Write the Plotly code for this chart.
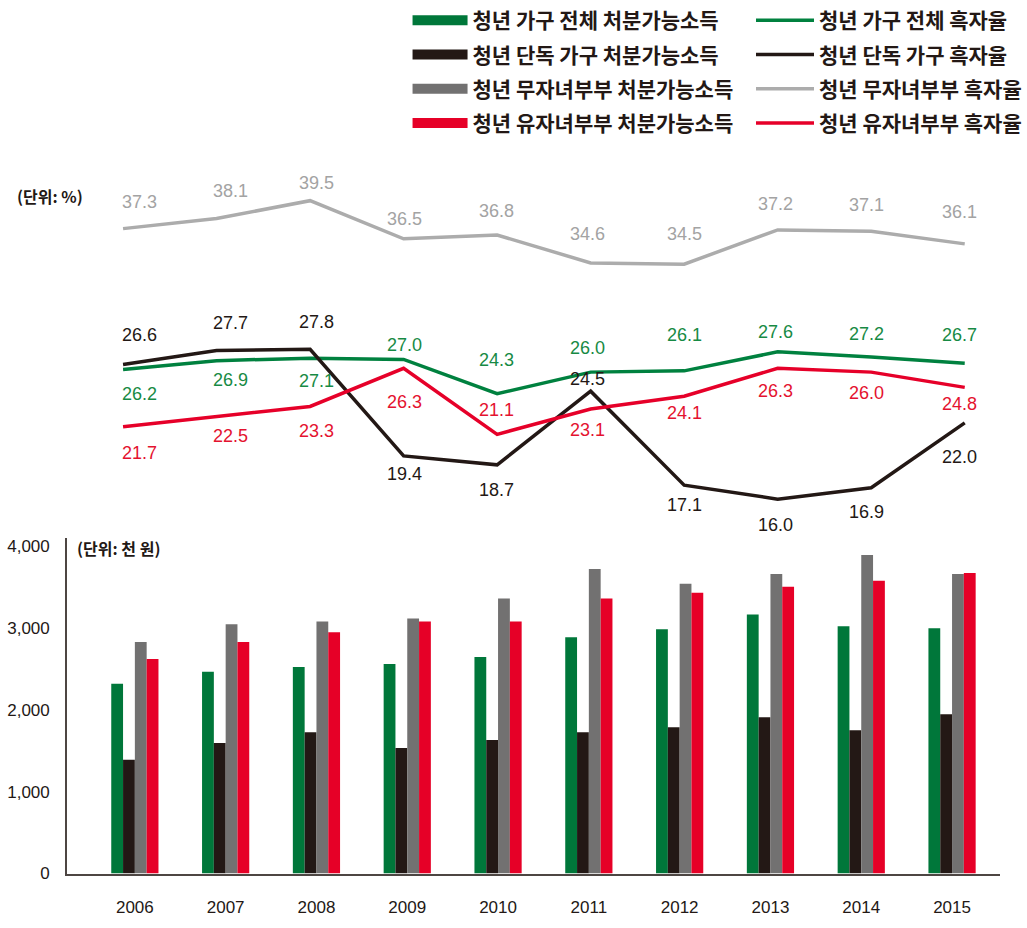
import plotly.graph_objects as go

years = [2006, 2007, 2008, 2009, 2010, 2011, 2012, 2013, 2014, 2015]

# 처분가능소득 (천 원)
inc_all = [2322, 2467, 2527, 2563, 2648, 2890, 2987, 3168, 3023, 2999]
inc_single = [1390, 1596, 1729, 1536, 1632, 1729, 1790, 1910, 1753, 1947]
inc_nochild = [2830, 3047, 3083, 3120, 3362, 3724, 3543, 3664, 3894, 3664]
inc_child = [2624, 2830, 2950, 3083, 3083, 3362, 3434, 3506, 3579, 3676]

# 흑자율 (%)
sr_all = [26.2, 26.9, 27.1, 27.0, 24.3, 26.0, 26.1, 27.6, 27.2, 26.7]
sr_single = [26.6, 27.7, 27.8, 19.4, 18.7, 24.5, 17.1, 16.0, 16.9, 22.0]
sr_nochild = [37.3, 38.1, 39.5, 36.5, 36.8, 34.6, 34.5, 37.2, 37.1, 36.1]
sr_child = [21.7, 22.5, 23.3, 26.3, 21.1, 23.1, 24.1, 26.3, 26.0, 24.8]

bar_names = ['청년 가구 전체 처분가능소득', '청년 단독 가구 처분가능소득',
             '청년 무자녀부부 처분가능소득', '청년 유자녀부부 처분가능소득']
line_names = ['청년 가구 전체 흑자율', '청년 단독 가구 흑자율',
              '청년 무자녀부부 흑자율', '청년 유자녀부부 흑자율']

bar_colors = ['#00773a', '#231815', '#727171', '#e60027']
line_colors = ['#00813f', '#231815', '#acacac', '#e60029']
label_colors = ['#178a44', '#231815', '#a3a3a3', '#e4122f']

# value label offsets in px (negative = below the point)
shifts = [
    [-24, -19, -23, 14, 34, 24, 36, 20, 23, 28],
    [30, 28, 27, -18, -25, 12, -20, -26, -24, -34],
    [27, 27, 18, 20, 24, 29, 30, 26, 26, 32],
    [-26, -19, -25, -34, 24, -21, -17, -23, -21, -17],
]
xshifts = [16, 14, 6, 1, -1, -3, 0, -2, -5, -5]

KR = 'Noto Sans CJK KR'
NUM = 'Liberation Sans'
W, H = 1027, 928

fig = go.Figure()

for vals, name, col in zip([inc_all, inc_single, inc_nochild, inc_child], bar_names, bar_colors):
    fig.add_trace(go.Bar(x=years, y=vals, name=name, marker=dict(color=col, line_width=0),
                         showlegend=False, xaxis='x', yaxis='y'))

# legend entries for the bars (wide rectangles)
for i, (name, col) in enumerate(zip(bar_names, bar_colors)):
    fig.add_trace(go.Scatter(x=[None], y=[None], mode='lines', name=name,
                             line=dict(color=col, width=12), legend='legend',
                             legendgroup='b%d' % i, xaxis='x2', yaxis='y2'))

series = [sr_all, sr_single, sr_nochild, sr_child]
for i, (vals, name, col) in enumerate(zip(series, line_names, line_colors)):
    fig.add_trace(go.Scatter(x=years, y=vals, name=name, mode='lines',
                             line=dict(color=col, width=3.5), legend='legend2',
                             legendgroup='l%d' % i, xaxis='x2', yaxis='y2'))
    for j, (x, v) in enumerate(zip(years, vals)):
        fig.add_annotation(x=x, y=v, xref='x2', yref='y2', text='%.1f' % v, showarrow=False,
                           yshift=shifts[i][j], xshift=xshifts[j],
                           font=dict(family=NUM, size=18, color=label_colors[i]))

# unit notes
fig.add_annotation(x=15 / W, y=1 - 197 / H, xref='paper', yref='paper', text='(단위: %)',
                   showarrow=False, xanchor='left', yanchor='middle',
                   font=dict(family=KR, size=16, color='#231815', weight='bold'))
fig.add_annotation(x=76 / W, y=1 - 554 / H, xref='paper', yref='paper', text='(단위: 천 원)',
                   showarrow=False, xanchor='left', yanchor='middle',
                   font=dict(family=KR, size=16, color='#231815', weight='bold'))

legend_font = dict(family=KR, size=21, color='#231815', weight='bold')

fig.update_layout(
    width=W, height=H,
    margin=dict(l=0, r=0, t=0, b=0),
    plot_bgcolor='white', paper_bgcolor='white',
    barmode='group', bargap=0.48, bargroupgap=0,
    xaxis=dict(domain=[68 / W, 1016 / W], range=[2005.252, 2015.53], tickmode='array',
               tickvals=years, ticktext=[str(y) for y in years], showgrid=False,
               showline=True, linecolor='#4d4643', linewidth=1.5, ticks='',
               ticklabelstandoff=17, tickfont=dict(family=NUM, size=17, color='#231815'),
               zeroline=False),
    yaxis=dict(domain=[1 - 883 / H, 1 - 543.7 / H], range=[0, 4100], tickvals=[0, 1000, 2000, 3000, 4000],
               tickformat=',d', showgrid=False, showline=True, linecolor='#4d4643', linewidth=1.5,
               ticks='', ticklabelstandoff=12, tickfont=dict(family=NUM, size=17, color='#231815'),
               zeroline=False),
    xaxis2=dict(domain=[30 / W, 1018 / W], range=[2005, 2015.4], visible=False, anchor='y2'),
    yaxis2=dict(domain=[1 - 529.8 / H, 1 - 182.8 / H], range=[14, 41], visible=False, anchor='x2'),
    legend=dict(x=414 / W, y=1 + 1 / H, xanchor='left', yanchor='top', itemwidth=55,
                tracegroupgap=4, font=legend_font, bgcolor='rgba(0,0,0,0)'),
    legend2=dict(x=763 / W, y=1 + 1 / H, xanchor='left', yanchor='top', itemwidth=58,
                 tracegroupgap=4, font=legend_font, bgcolor='rgba(0,0,0,0)'),
)

# the page body has a default 8px margin; drop it so the chart sits at 0,0
fig.write_html('out.html', config={'displayModeBar': False},
               post_script="document.body.style.margin='0';")
